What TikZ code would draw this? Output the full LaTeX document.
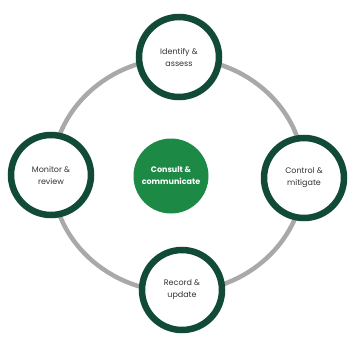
\documentclass[tikz,border=0pt]{standalone}
\usepackage{fontspec}
\setmainfont{Poppins}
\definecolor{ringgray}{HTML}{A9A9A9}
\definecolor{darkgreen}{HTML}{114A36}
\definecolor{midgreen}{HTML}{1C8A45}
\definecolor{txtgray}{HTML}{333333}
\begin{document}
\begin{tikzpicture}[x=1pt,y=-1pt,
  stage/.style={circle, draw=darkgreen, line width=6.5pt, fill=white, minimum size=80pt, inner sep=0pt, align=center, font=\fontsize{8}{12}\selectfont, text=txtgray},
  hub/.style={circle, fill=midgreen, minimum size=75pt, inner sep=0pt, align=center, font=\fontsize{8}{12}\selectfont\bfseries, text=white}]
\useasboundingbox (0,0) rectangle (353,340);
\draw[ringgray, line width=4.5pt] (178,175) ellipse [x radius=126, y radius=117];
\node[stage] (top) at (179,57) {Identify \&\\assess};
\node[stage] (left) at (51,175) {Monitor \&\\review};
\node[stage] (right) at (304,178) {Control \&\\mitigate};
\node[stage] (bottom) at (182,290) {Record \&\\update};
\node[hub] (hub) at (171,176) {Consult \&\\communicate};
\end{tikzpicture}
\end{document}
